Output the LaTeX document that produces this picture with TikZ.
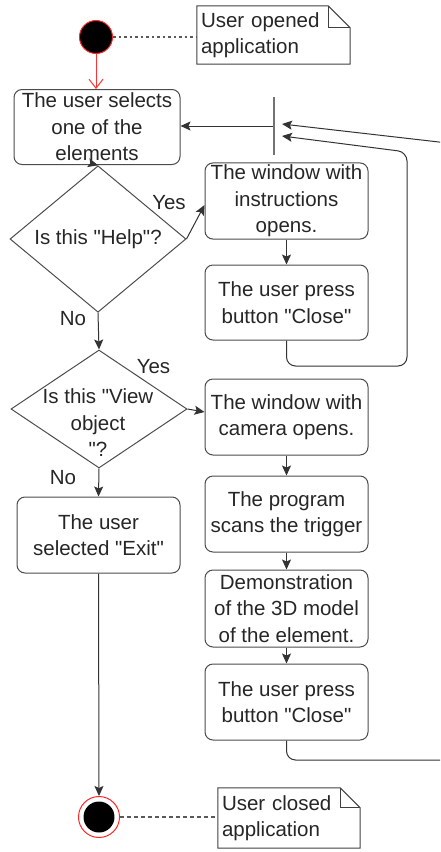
\documentclass[tikz,border=0pt]{standalone}
\usepackage{fontspec}
\setmainfont{Liberation Sans}
\usetikzlibrary{arrows.meta, shapes.geometric}
\newcommand\flfont{\fontsize{20.5}{26.5}\selectfont}
\newcommand\qq{\textquotedbl}
\tikzset{
  act/.style    = {draw=black!70, rounded corners=8pt, align=center, inner sep=2pt,
                   minimum width=163pt, minimum height=76pt, line width=1pt,
                   text=black!85, font=\flfont},
  dec/.style    = {diamond, draw=black!70, line width=1pt, inner sep=0pt,
                   minimum width=176pt, minimum height=112pt, align=center,
                   text=black!85, font=\flfont},
  txt/.style    = {align=center, inner sep=0pt, text=black!85, font=\flfont},
  lbl/.style    = {inner sep=0pt, text=black!85, font=\flfont},
  note/.style   = {align=left, inner sep=4pt, text=black!85, font=\flfont},
  notebd/.style = {draw=black!75, line width=1pt},
  startst/.style= {circle, fill=black, draw=red!85, line width=1pt, minimum size=33pt,
                   inner sep=0pt},
  endst/.style  = {circle, fill=white, draw=red!85, line width=1pt, minimum size=41pt,
                   inner sep=0pt,
                   path picture={\fill[black] (path picture bounding box.center) circle (15.5pt);}},
  joinbar/.style= {fill=black!55, minimum width=2pt, minimum height=58pt, inner sep=0pt},
  fl/.style     = {-{Stealth[length=10pt, width=9pt, inset=2pt]}, line width=1pt, draw=black!80},
  back/.style   = {fl, rounded corners=9pt},
  init/.style   = {-{Straight Barb[length=9pt, width=14pt]}, line width=1pt, draw=red!80},
  anchorln/.style = {line width=1.2pt, draw=black!65},
}
% folded corner of a note: node name, fold size
\newcommand\foldnote[2]{%
  \draw[notebd] (#1.south west) -- (#1.north west) -- ([xshift=-#2]#1.north east)
    -- ([yshift=-#2]#1.north east) -- (#1.south east) -- cycle;
  \draw[notebd] ([xshift=-#2]#1.north east) |- ([yshift=-#2]#1.north east);}

\begin{document}
\begin{tikzpicture}[x=1pt, y=-1pt]
\useasboundingbox (0,0) rectangle (440,852);
\clip (0,0) rectangle (440,852);

% --- start and notes ------------------------------------------------------------------
\node[startst] (start) at (96,37) {};
\node[note, text width=145pt, minimum height=58pt] (n1) at (273.5,35)
  {User opened\\application};
\foldnote{n1}{22pt}
\draw[anchorln, dash pattern=on 2.5pt off 3pt] (start.east) -- (start.east -| n1.west);

% --- left column ------------------------------------------------------------------------
\node[act, minimum width=166pt, minimum height=75pt] (sel) at (97,127)
  {The user selects\\one of the\\elements};
\node[dec] (help) at (98,239) {Is this \qq Help\qq?};
\node[dec, minimum height=118pt] (view) at (99,409) {};
\node[txt] (viewtx) at (98,423) {Is this \qq View\\object\\\qq?};
\node[act] (exit) at (98.5,535) {The user\\selected \qq Exit\qq};
\node[endst] (stop) at (99,817) {};
\node[note, text width=134pt, minimum height=60pt] (n2) at (289,818)
  {User closed\\application};
\foldnote{n2}{20pt}
\draw[anchorln, dash pattern=on 4pt off 3pt] (stop.east) -- (stop.east -| n2.west);

% --- right column -----------------------------------------------------------------------
\node[act] (winhelp) at (286.5,201) {The window with\\instructions\\opens.};
\node[act, minimum height=75pt] (close1) at (286.5,302.5) {The user press\\button \qq Close\qq};
\node[act] (wincam) at (286.5,417) {The window with\\camera opens.};
\node[act] (scan) at (286.5,514) {The program\\scans the trigger};
\node[act, minimum height=77pt] (demo) at (286.5,608.5)
  {Demonstration\\of the 3D model\\of the element.};
\node[act] (close2) at (286.5,702) {The user press\\button \qq Close\qq};

% join bar and the points where the loops come back
\node[joinbar] (join) at (274,126) {};
\coordinate (j1) at (282,124);
\coordinate (j2) at (282,136);
\coordinate (r1) at (407,366);
\coordinate (r2) at (407,152);
\coordinate (o1) at (452,760);
\coordinate (o2) at (452,143.5);

% --- flows ------------------------------------------------------------------------------
\draw[init] (start.south) -- (start.south |- sel.north);
\draw[fl] (sel.south) -- (help.north);
\draw[fl] (help.east) -- ([yshift=-4pt]winhelp.west);
\draw[fl] (winhelp.south) -- (close1.north);
\draw[fl] (help.south) -- (view.north);
\draw[fl] (view.east) -- ([yshift=5pt]wincam.west);
\draw[fl] (wincam.south) -- (scan.north);
\draw[fl] (scan.south) -- (demo.north);
\draw[fl] (demo.south) -- (close2.north);
\draw[fl] (view.south) -- (exit.north);
\draw[fl] (exit.south) -- (stop.north);
\draw[fl] (join.west) -- (join.west -| sel.east);
% loops back to the bar
\draw[back] (close1.south) |- (r1) -- (r2) -- (j2);
\draw[back] (close2.south) |- (o1) -- (o2) -- (j1);

% branch labels
\node[lbl] (yes1) at (169,203) {Yes};
\node[lbl] (no1) at (73,319) {No};
\node[lbl] (yes2) at (153.5,367) {Yes};
\node[lbl] (no2) at (63,478) {No};
\end{tikzpicture}
\end{document}
